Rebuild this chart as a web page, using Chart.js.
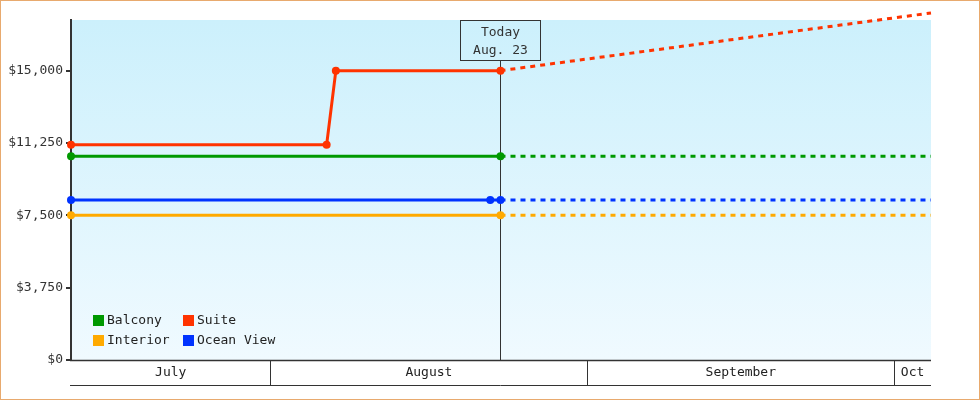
<!DOCTYPE html>
<html>
<head>
<meta charset="utf-8">
<script src="https://cdn.jsdelivr.net/npm/chart.js@4"></script>
<style>
  html, body { margin: 0; padding: 0; background: #fff; }
  #wrap { width: 980px; height: 400px; }
</style>
</head>
<body>
<div id="wrap"><canvas id="c" width="980" height="400"></canvas></div>
<script>
// ---- data (x = days since July 1, 00:00) ----
const seriesNames = ['Balcony', 'Suite', 'Interior', 'Ocean View'];
const seriesColors = ['#009900', '#ff3300', '#ffaa00', '#0033ff'];

const balconyX = [11.5, 53.5, 95.6];
const balconyY = [10565, 10565, 10565];

const suiteX = [11.5, 36.5, 37.4, 53.5, 95.6];
const suiteY = [11160, 11160, 15000, 15000, 17990];

const interiorX = [11.5, 53.5, 95.6];
const interiorY = [7510, 7510, 7510];

const oceanX = [11.5, 52.5, 53.5, 95.6];
const oceanY = [8290, 8290, 8290, 8290];

const todayX = 53.5;
const todayLabel = ['Today', 'Aug. 23'];

const xMin = 11.5, xMax = 95.6;
const yMin = 0, yMax = 17625;
const yTicks = [0, 3750, 7500, 11250, 15000];

const monthNames = ['July', 'August', 'September', 'Oct'];
const monthStarts = [0, 31, 62, 92];
const monthEnds = [31, 62, 92, 123];

// ---- helpers ----
const FONT = '13px "DejaVu Sans Mono", "Liberation Mono", monospace';
const INK = '#333333';
function pts(xs, ys) { return xs.map((x, i) => ({ x: x, y: ys[i] })); }
function money(v) { return '$' + v.toLocaleString('en-US'); }

const seriesData = [pts(balconyX, balconyY), pts(suiteX, suiteY), pts(interiorX, interiorY), pts(oceanX, oceanY)];

const datasets = seriesNames.map((name, i) => ({
  label: name,
  data: seriesData[i],
  borderColor: seriesColors[i],
  backgroundColor: seriesColors[i],
  borderWidth: 3,
  tension: 0,
  fill: false,
  clip: false,
  pointStyle: 'circle',
  pointRadius: ctx => (ctx.parsed && ctx.parsed.x < xMax ? 4 : 0),
  pointBorderWidth: 0,
  pointHoverRadius: 4,
  segment: {
    borderDash: ctx => (ctx.p0.parsed.x >= todayX ? [5, 5] : undefined)
  }
}));

const decor = {
  id: 'decor',
  beforeDraw(chart) {
    const ctx = chart.ctx, a = chart.chartArea;
    ctx.save();
    ctx.fillStyle = '#ffffff';
    ctx.fillRect(0, 0, chart.width, chart.height);
    const g = ctx.createLinearGradient(0, a.top, 0, a.bottom);
    g.addColorStop(0, '#ccf0fc');
    g.addColorStop(1, '#f0faff');
    ctx.fillStyle = g;
    ctx.fillRect(a.left, a.top, a.right - a.left, a.bottom - a.top);
    // border
    ctx.strokeStyle = '#e8aa6e';
    ctx.lineWidth = 2;
    ctx.strokeRect(0, 0, chart.width, chart.height);
    ctx.restore();
  },
  beforeDatasetsDraw(chart) {
    const ctx = chart.ctx, a = chart.chartArea, xs = chart.scales.x;
    const tx = Math.floor(xs.getPixelForValue(todayX)) + 0.5;
    ctx.save();
    // today box
    const bw = 80, bh = 40, bTop = a.top;
    ctx.strokeStyle = INK;
    ctx.lineWidth = 1;
    ctx.strokeRect(tx - bw / 2, bTop + 0.5, bw, bh);
    ctx.beginPath();
    ctx.moveTo(tx, bTop + bh + 0.5);
    ctx.lineTo(tx, a.bottom);
    ctx.stroke();
    ctx.fillStyle = INK;
    ctx.font = FONT;
    ctx.textAlign = 'center';
    ctx.textBaseline = 'middle';
    ctx.fillText(todayLabel[0], tx, bTop + 12.5);
    ctx.fillText(todayLabel[1], tx, bTop + 30.5);
    ctx.restore();
  },
  afterDraw(chart) {
    const ctx = chart.ctx, a = chart.chartArea, xs = chart.scales.x;
    ctx.save();
    // month band
    const top = a.bottom, bot = a.bottom + 25;
    ctx.strokeStyle = INK;
    ctx.lineWidth = 1.5;
    ctx.beginPath();
    ctx.moveTo(a.left - 1, top + 0.5);
    ctx.lineTo(a.right, top + 0.5);
    ctx.stroke();
    ctx.lineWidth = 1;
    ctx.beginPath();
    ctx.moveTo(a.left - 1, bot + 0.5);
    ctx.lineTo(a.right, bot + 0.5);
    ctx.stroke();
    ctx.font = FONT;
    ctx.fillStyle = '#222';
    ctx.textAlign = 'center';
    ctx.textBaseline = 'middle';
    monthNames.forEach((m, i) => {
      const s = Math.max(monthStarts[i], xMin), e = Math.min(monthEnds[i], xMax);
      if (e <= s) return;
      const px1 = xs.getPixelForValue(s), px2 = xs.getPixelForValue(e);
      if (monthStarts[i] > xMin) {
        const bx = Math.floor(px1) + 0.5;
        ctx.beginPath();
        ctx.moveTo(bx, top);
        ctx.lineTo(bx, bot);
        ctx.stroke();
      }
      ctx.fillText(m, (px1 + px2) / 2, top + 13);
    });
    // legend
    const lx = [a.left + 22, a.left + 112];
    const ly = [a.bottom - 45, a.bottom - 25];
    chart.data.datasets.forEach((ds, i) => {
      const col = i % 2, row = Math.floor(i / 2);
      ctx.fillStyle = ds.borderColor;
      ctx.fillRect(lx[col], ly[row], 11, 11);
      ctx.fillStyle = '#222';
      ctx.textAlign = 'left';
      ctx.fillText(ds.label, lx[col] + 14, ly[row] + 6);
    });
    ctx.restore();
  }
};

new Chart(document.getElementById('c'), {
  type: 'line',
  data: { datasets: datasets },
  options: {
    responsive: false,
    animation: false,
    devicePixelRatio: 1,
    layout: { padding: { left: 0, right: 49, top: 20, bottom: 40 } },
    plugins: { legend: { display: false }, tooltip: { enabled: false } },
    scales: {
      x: {
        type: 'linear',
        min: xMin,
        max: xMax,
        display: false
      },
      y: {
        type: 'linear',
        min: yMin,
        max: yMax,
        afterFit(scale) { scale.width = 71; },
        afterBuildTicks(scale) { scale.ticks = yTicks.map(v => ({ value: v })); },
        border: { display: true, color: INK, width: 2 },
        grid: { drawOnChartArea: false, drawTicks: true, tickLength: 5, color: INK, lineWidth: 2 },
        ticks: {
          padding: 3,
          color: INK,
          font: { family: '"DejaVu Sans Mono", "Liberation Mono", monospace', size: 13 },
          callback: v => money(v)
        }
      }
    }
  },
  plugins: [decor]
});
</script>
</body>
</html>
